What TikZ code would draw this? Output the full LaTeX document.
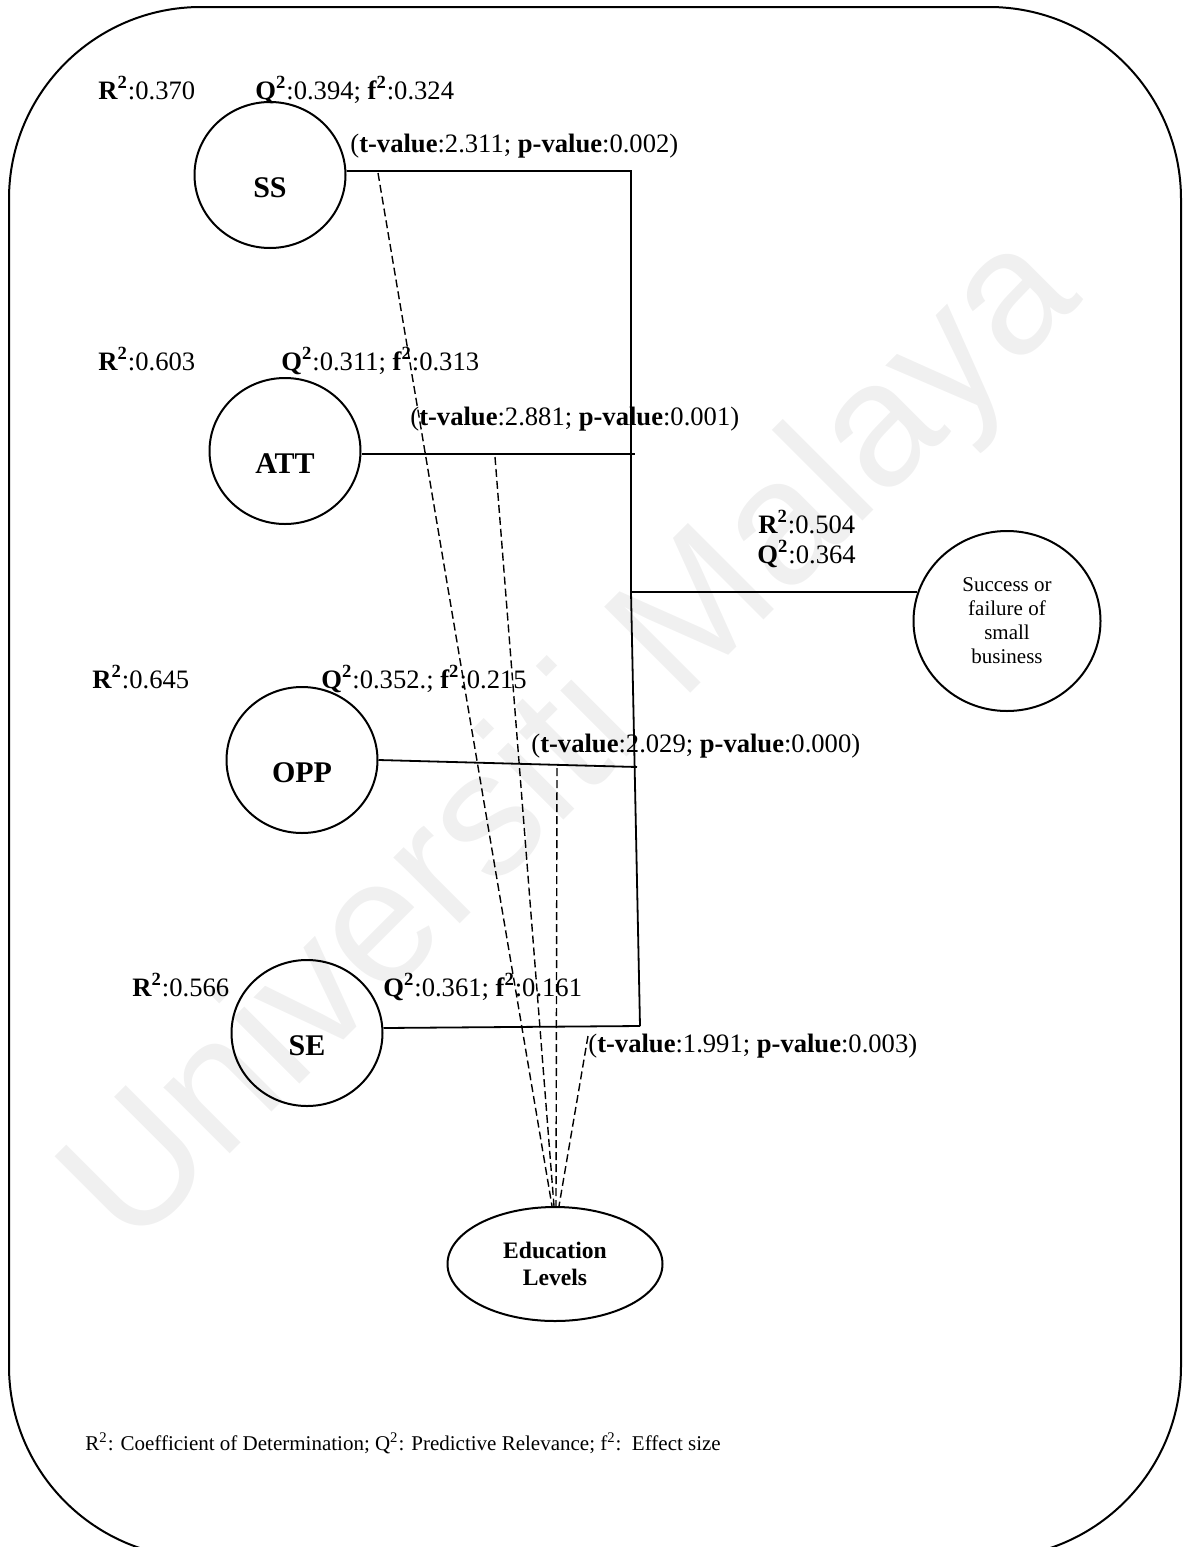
\documentclass[tikz,border=0pt]{standalone}
\usepackage{fontspec}
\setmainfont{Liberation Serif}
\newfontfamily\wmfont{Liberation Sans}
\usetikzlibrary{shapes.geometric}

\newcommand{\sqb}[1]{\textbf{#1\textsuperscript{2}}}
\newcommand{\tpval}[2]{(\textbf{t-value}:#1; \textbf{p-value}:#2)}

\begin{document}
\begin{tikzpicture}[x=0.5pt, y=-0.5pt,
		construct/.style={ellipse, draw, line width=1pt, inner sep=0pt, minimum width=75.5pt, minimum height=73pt,
			font=\bfseries\fontsize{15}{18}\selectfont, text height=22pt, text depth=0pt},
		outcome/.style={ellipse, draw, line width=1pt, inner sep=0pt, minimum width=93.5pt, minimum height=90pt,
			align=center, font=\fontsize{10.5}{12}\selectfont},
		moderator/.style={ellipse, draw, line width=1pt, inner sep=0pt, minimum width=107.5pt, minimum height=57pt,
			align=center, font=\bfseries\fontsize{11.8}{13.5}\selectfont},
		stat/.style={anchor=base west, inner sep=0pt, font=\fontsize{13.3}{16}\selectfont},
		path/.style={line width=0.9pt},
		link/.style={line width=0.7pt, dash pattern=on 4pt off 2pt}]
		\useasboundingbox (0,0) rectangle (1184,1547);
		% ---------------- watermark ----------------
		\node[anchor=base, rotate=45, inner sep=0pt, text=black!6, font=\wmfont\fontsize{88.5}{88.5}\selectfont] (wm) at (608,776) {Universiti Malaya};
		% ---------------- frame ----------------
		\draw[line width=1pt, rounded corners=96pt] (9,7) rectangle (1181,1558);
		% ---------------- constructs ----------------
		\node[construct] (SS) at (270,175) {SS};
		\node[construct] (ATT) at (285,451) {ATT};
		\node[construct] (OPP) at (302,760) {OPP};
		\node[construct] (SE) at (307,1033) {SE};
		\node[outcome] (SB) at (1007,621) {Success or\\failure of\\small\\business};
		\node[moderator] (EL) at (555,1264) {Education\\Levels};
		% junction points on the path
		\coordinate (jSS) at (631,171);
		\coordinate (jATT) at (635,454);
		\coordinate (jSB) at (631,592);
		\coordinate (jOPP) at (637,767);
		\coordinate (jSE) at (640,1026);
		% ---------------- paths ----------------
		\draw[path] (SS.east |- jSS) -- (jSS) -- (jSB) -- (jSE);
		\draw[path] (ATT.east |- jATT) -- (jATT);
		\draw[path] (OPP.east) -- (jOPP);
		\draw[path] (SE.east |- 0,1028) -- (jSE);
		\draw[path] (jSB) -- (jSB -| SB.162);
		% ---------------- moderating links ----------------
		\coordinate (mSS) at (378,173);
		\coordinate (mATT) at (495,457);
		\coordinate (mOPP) at (557,768);
		\coordinate (mSE) at (588,1036);
		\draw[link] (mSS) -- ([xshift=-1.5pt]EL.north);
		\draw[link] (mATT) -- ([xshift=-0.5pt]EL.north);
		\draw[link] (mOPP) -- ([xshift=0.5pt]EL.north);
		\draw[link] (mSE) -- ([xshift=2pt]EL.north);
		% ---------------- statistics ----------------
		\node[stat] (r1) at (98,99) {\sqb{R}:0.370};
		\node[stat] (q1) at (255,99) {\sqb{Q}:0.394; \sqb{f}:0.324};
		\node[stat] (t1) at (350,152) {\tpval{2.311}{0.002}};
		\node[stat] (r2) at (98,370) {\sqb{R}:0.603};
		\node[stat] (q2) at (281,370) {\sqb{Q}:0.311; \sqb{f}:0.313};
		\node[stat] (t2) at (410,425) {\tpval{2.881}{0.001}};
		\node[stat] (r5) at (758,533) {\sqb{R}:0.504};
		\node[stat] (q5) at (757,563) {\sqb{Q}:0.364};
		\node[stat] (r3) at (92,688) {\sqb{R}:0.645};
		\node[stat] (q3) at (321,688) {\sqb{Q}:0.352.; \sqb{f}:0.215};
		\node[stat] (t3) at (531,752) {\tpval{2.029}{0.000}};
		\node[stat] (r4) at (132,996) {\sqb{R}:0.566};
		\node[stat] (q4) at (383,996) {\sqb{Q}:0.361; \sqb{f}:0.161};
		\node[stat] (t4) at (588,1052) {\tpval{1.991}{0.003}};
		% ---------------- note ----------------
		\node[stat, font=\fontsize{10.5}{12}\selectfont] (note) at (85,1450)
			{R\textsuperscript{2}: Coefficient of Determination; Q\textsuperscript{2}: Predictive Relevance; f\textsuperscript{2}:\ \ Effect size};
	\end{tikzpicture}
\end{document}
